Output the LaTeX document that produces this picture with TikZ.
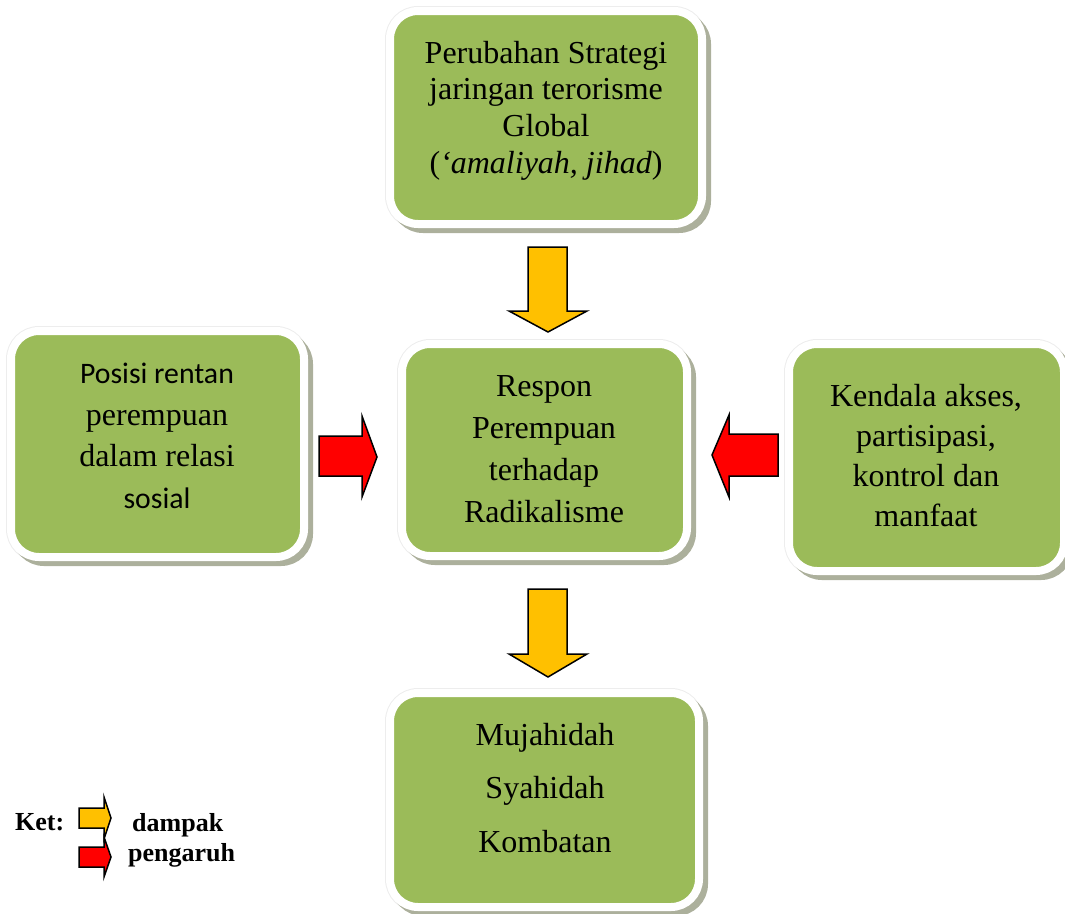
\documentclass[tikz,border=0pt]{standalone}
\usepackage{fontspec}
\setmainfont{Liberation Serif}
\newfontfamily\calibri[Scale=0.93]{Carlito}
\usetikzlibrary{positioning, calc, shadows}
\definecolor{kotak}{HTML}{9BBB59}
\definecolor{bayang}{RGB}{172,176,156}
\definecolor{kuning}{HTML}{FFC000}
\definecolor{merah}{HTML}{FF0000}

\begin{document}
\begin{tikzpicture}[x=1pt, y=-1pt,
		kotak/.style={draw=white, line width=8pt, fill=kotak, rounded corners=28pt,
			preaction={draw=black!7, line width=10pt},
			drop shadow={shadow xshift=5pt, shadow yshift=-5pt, opacity=1, fill=bayang, draw=bayang, line width=8pt},
			inner sep=0pt},
		isi/.style={align=center, inner sep=0pt},
		dampak/.style={draw=black, line width=1.5pt, fill=kuning, line join=miter},
		pengaruh/.style={draw=black, line width=1.5pt, fill=merah, line join=miter}]
		\useasboundingbox (0,0) rectangle (1065,913);
		% kotak-kotak
		\node[kotak, minimum width=312pt, minimum height=213pt] (global) at (546,117.5) {};
		\node[kotak, minimum width=293pt, minimum height=226pt] (posisi) at (157.5,444) {};
		\node[kotak, minimum width=285pt, minimum height=212pt] (respon) at (544.5,450) {};
		\node[kotak, minimum width=275pt, minimum height=227pt] (kendala) at (926.5,457.5) {};
		\node[kotak, minimum width=309pt, minimum height=214pt] (hasil) at (544.5,800) {};
		% teks
		\node[isi, font=\fontsize{32}{36.7}\selectfont] (tglobal) at (546,110.5) {Perubahan Strategi\\ jaringan terorisme\\ Global\\ (\textit{`amaliyah, jihad})};
		\node[isi, font=\fontsize{32}{41.7}\selectfont] (tposisi) at (157,436) {{\calibri Posisi rentan}\\ perempuan\\ dalam relasi\\ {\calibri sosial}};
		\node[isi, font=\fontsize{32}{42}\selectfont] (trespon) at (544,449.5) {Respon\\ Perempuan\\ terhadap\\ Radikalisme};
		\node[isi, font=\fontsize{32}{40}\selectfont] (tkendala) at (926,455.5) {Kendala akses,\\ partisipasi,\\ kontrol dan\\ manfaat};
		\node[isi, font=\fontsize{32}{53.5}\selectfont] (thasil) at (545,788) {Mujahidah\\ Syahidah\\ Kombatan};
		% panah
		\draw[dampak] (528,247) -- (567,247) -- (567,311) -- (587,311) -- (548,332) -- (509,311) -- (528,311) -- cycle;
		\draw[dampak] (528,589) -- (567,589) -- (567,654) -- (587,654) -- (548,677) -- (509,654) -- (528,654) -- cycle;
		\draw[pengaruh] (319,436) -- (362,436) -- (362,416) -- (377,457) -- (362,497) -- (362,476) -- (319,476) -- cycle;
		\draw[pengaruh] (778,434) -- (729,434) -- (729,415) -- (712,455) -- (729,497) -- (729,476) -- (778,476) -- cycle;
		% keterangan
		\node[font=\fontsize{26}{30}\selectfont\bfseries, anchor=base west, inner sep=0pt] (ket) at (15,830) {Ket:};
		\draw[dampak] (79,808) -- (104,808) -- (104,797) -- (111,818) -- (104,839) -- (104,828) -- (79,828) -- cycle;
		\draw[pengaruh] (79,847) -- (104,847) -- (104,837) -- (111,857) -- (104,877) -- (104,867) -- (79,867) -- cycle;
		\node[font=\fontsize{26}{30}\selectfont\bfseries, anchor=base west, inner sep=0pt] (dampak) at (132,831) {dampak};
		\node[font=\fontsize{26}{30}\selectfont\bfseries, anchor=base west, inner sep=0pt] (pengaruh) at (128,861) {pengaruh};
	\end{tikzpicture}
\end{document}
